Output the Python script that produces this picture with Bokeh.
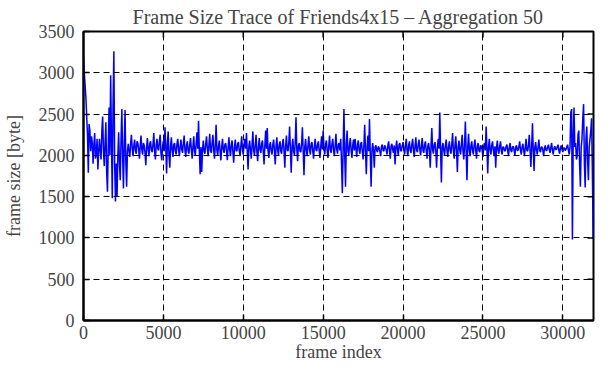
import math
from bokeh.plotting import figure
from bokeh.models import Range1d, FixedTicker
from bokeh.embed import file_html
from bokeh.resources import INLINE

title_text = "Frame Size Trace of Friends4x15 \u2013 Aggregation 50"
x_label = "frame index"
y_label = "frame size [byte]"
x_ticks = [0, 5000, 10000, 15000, 20000, 25000, 30000]
y_ticks = [0, 500, 1000, 1500, 2000, 2500, 3000, 3500]

step = 50  # aggregation: frames per plotted sample
frame_size = [
    3200, 3000, 2850, 2700, 2470, 2250, 1790, 2380, 2300, 2050, 2230, 2150, 1900, 2120, 2270, 1960, 2010, 2200, 1830, 2050,
    2200, 2050, 1950, 2300, 2470, 2050, 1870, 2150, 2400, 1800, 1560, 2100, 2580, 2000, 2970, 2200, 1480, 2600, 3260, 1900,
    1440, 1900, 1500, 2000, 2280, 1900, 1700, 2200, 2560, 2000, 1600, 2150, 2550, 1900, 1620, 2050, 2140, 2050, 1980, 2150,
    2250, 2080, 1990, 2120, 2190, 2060, 2020, 2170, 2150, 2080, 1960, 2110, 2240, 2070, 2010, 2150, 2120, 2030, 1880, 2100,
    2210, 2070, 1990, 2140, 2170, 2060, 2040, 2130, 2270, 2050, 1950, 2120, 2200, 2080, 2060, 2170, 2250, 2020, 1940, 2110,
    2180, 2050, 2340, 2100, 1780, 2150, 2290, 2000, 1850, 2110, 2220, 2060, 1980, 2130, 2150, 2050, 2010, 2140, 2200, 2070,
    1990, 2110, 2190, 2070, 2030, 2150, 2240, 2060, 1980, 2120, 2170, 2050, 2020, 2130, 2210, 2070, 1960, 2100, 2230, 2050,
    2000, 2140, 2280, 2080, 2420, 2050, 1770, 2100, 1800, 2070, 2180, 2050, 2020, 2140, 2230, 2080, 1990, 2120, 2260, 2060,
    2030, 2150, 2250, 2060, 1960, 2130, 2370, 2060, 2000, 2110, 2180, 2050, 1940, 2100, 2200, 2070, 2030, 2130, 2150, 2060,
    1940, 2090, 2220, 2070, 1990, 2130, 2180, 2040, 1910, 2100, 2190, 2060, 2050, 2140, 2160, 2050, 1990, 2120, 2230, 2070,
    2010, 2130, 2200, 2080, 2270, 2040, 1830, 2110, 2180, 2060, 1960, 2130, 2290, 2060, 2000, 2120, 2250, 2050, 1930, 2100,
    2210, 2070, 2030, 2140, 2180, 2050, 1890, 2120, 2300, 2080, 2330, 2060, 1970, 2120, 2160, 2050, 2010, 2130, 2190, 2060,
    1890, 2100, 2220, 2070, 2000, 2130, 2170, 2050, 2020, 2140, 2200, 2060, 1850, 2110, 2240, 2070, 2050, 2150, 2350, 2060,
    1790, 2100, 2200, 2050, 2000, 2150, 2460, 2080, 1930, 2120, 2150, 2050, 2040, 2140, 2340, 2050, 1760, 2100, 2200, 2060,
    1990, 2120, 2230, 2070, 2010, 2140, 2160, 2050, 1960, 2110, 2200, 2070, 2050, 2130, 2170, 2060, 1970, 2110, 2230, 2070,
    2300, 2080, 2010, 2130, 2180, 2060, 1970, 2110, 2240, 2070, 2030, 2140, 2200, 2060, 1990, 2120, 2260, 2070, 2020, 2130,
    2150, 2060, 2200, 1900, 1540, 2100, 2560, 2000, 1620, 2150, 2300, 2050, 2000, 2130, 2210, 2060, 1970, 2120, 2190, 2060,
    2200, 2080, 1980, 2130, 2180, 2060, 2020, 2140, 2160, 2050, 1950, 2120, 2370, 2050, 1770, 2100, 2240, 2050, 2440, 2000,
    1620, 2050, 2150, 2060, 1850, 2100, 2120, 2060, 2040, 2110, 2090, 2050, 1990, 2110, 2130, 2060, 2050, 2120, 2100, 2060,
    2010, 2120, 2170, 2060, 1960, 2110, 2140, 2070, 2030, 2120, 1890, 2090, 2180, 2070, 2000, 2130, 2150, 2060, 2050, 2120,
    2160, 2070, 2010, 2120, 2200, 2060, 1990, 2120, 2170, 2060, 2030, 2130, 2200, 2070, 1980, 2110, 2220, 2060, 2040, 2130,
    2190, 2070, 2000, 2120, 2210, 2060, 2030, 2130, 2170, 2060, 1960, 2110, 2150, 2060, 1850, 2100, 2330, 2070, 2020, 2130,
    2160, 2050, 1850, 2100, 2200, 2080, 2520, 2050, 1670, 2100, 2150, 2060, 2000, 2120, 2190, 2060, 1980, 2110, 2170, 2060,
    2020, 2130, 2270, 2060, 1960, 2120, 2230, 2050, 1800, 2100, 2180, 2060, 2010, 2130, 2250, 2060, 1950, 2120, 2410, 2050,
    1700, 2100, 2260, 2060, 1990, 2120, 2170, 2060, 2010, 2120, 2190, 2060, 1960, 2110, 2150, 2060, 2040, 2120, 2110, 2060,
    1980, 2110, 2150, 2060, 2350, 2080, 1780, 2100, 2200, 2060, 2010, 2120, 2170, 2060, 1990, 2110, 1850, 2090, 2180, 2060,
    2020, 2110, 2170, 2060, 2010, 2100, 2100, 2060, 2050, 2110, 2130, 2060, 1990, 2100, 2150, 2060, 2040, 2100, 2110, 2060,
    2000, 2100, 2120, 2060, 2060, 2110, 2170, 2060, 2010, 2100, 2140, 2060, 1990, 2100, 2200, 2060, 2050, 2120, 2250, 2060,
    1860, 2100, 2390, 2060, 1810, 2100, 2160, 2060, 2010, 2100, 2190, 2060, 2040, 2100, 2100, 2060, 1990, 2090, 2120, 2060,
    2060, 2100, 2130, 2070, 2030, 2100, 2150, 2060, 2010, 2090, 2110, 2070, 2070, 2100, 2130, 2060, 2020, 2090, 2120, 2070,
    2040, 2090, 2090, 2060, 2070, 2100, 2130, 2060, 2010, 2100, 2520, 2560, 980, 2200, 2580, 2100, 2150, 1950, 1990, 2250,
    2300, 1900, 1620, 2100, 2200, 2450, 2620, 1900, 1610, 2200, 2350, 1950, 1700, 2100, 2200, 2300, 2450, 1800, 990,
]
frame_index = [i * step for i in range(len(frame_size))]
x_max = frame_index[-1] + 20
y_max = 3500

FONT = "Liberation Serif"

p = figure(width=595, height=364, output_backend="svg", toolbar_location=None,
           x_range=Range1d(0, x_max), y_range=Range1d(0, y_max),
           title=title_text, min_border_left=0, min_border_right=2,
           min_border_top=0, min_border_bottom=0)
p.background_fill_color = "white"
p.border_fill_color = "white"
p.outline_line_color = "black"
p.outline_line_width = 2

p.title.text_font = FONT
p.title.text_font_size = "20px"
p.title.text_font_style = "normal"
p.title.align = "center"
p.title.standoff = 7

p.line(frame_index, frame_size, line_color="#0000ff", line_width=1.5)

for ax in (p.xaxis[0], p.yaxis[0]):
    ax.axis_line_color = "black"
    ax.axis_line_width = 2
    ax.major_tick_in = 6
    ax.major_tick_out = 0
    ax.major_tick_line_width = 1.5
    ax.minor_tick_line_color = None
    ax.major_label_text_font = FONT
    ax.major_label_text_font_size = "18px"
    ax.axis_label_text_font = FONT
    ax.axis_label_text_font_size = "18px"
    ax.axis_label_text_font_style = "normal"

p.xaxis[0].ticker = FixedTicker(ticks=x_ticks)
p.yaxis[0].ticker = FixedTicker(ticks=y_ticks)
p.xaxis[0].axis_label = x_label
p.yaxis[0].axis_label = y_label
p.xaxis[0].major_label_standoff = 5
p.xaxis[0].axis_label_standoff = 0
p.yaxis[0].major_label_standoff = 9
p.yaxis[0].axis_label_standoff = 12

# mirrored inward ticks on the top and right borders
p.ray(x=x_ticks[1:], y=[y_max] * (len(x_ticks) - 1), length=6, length_units="screen",
      angle=-math.pi / 2, line_color="black", line_width=1.5)
p.ray(x=[x_max] * (len(y_ticks) - 2), y=y_ticks[1:-1], length=6, length_units="screen",
      angle=math.pi, line_color="black", line_width=1.5)

for g, ticks in ((p.xgrid[0], x_ticks), (p.ygrid[0], y_ticks)):
    g.ticker = FixedTicker(ticks=ticks)
    g.grid_line_color = "black"
    g.grid_line_dash = "6 4"
    g.grid_line_width = 1
    g.level = "overlay"

open("out.html", "w").write(file_html(p, INLINE))
